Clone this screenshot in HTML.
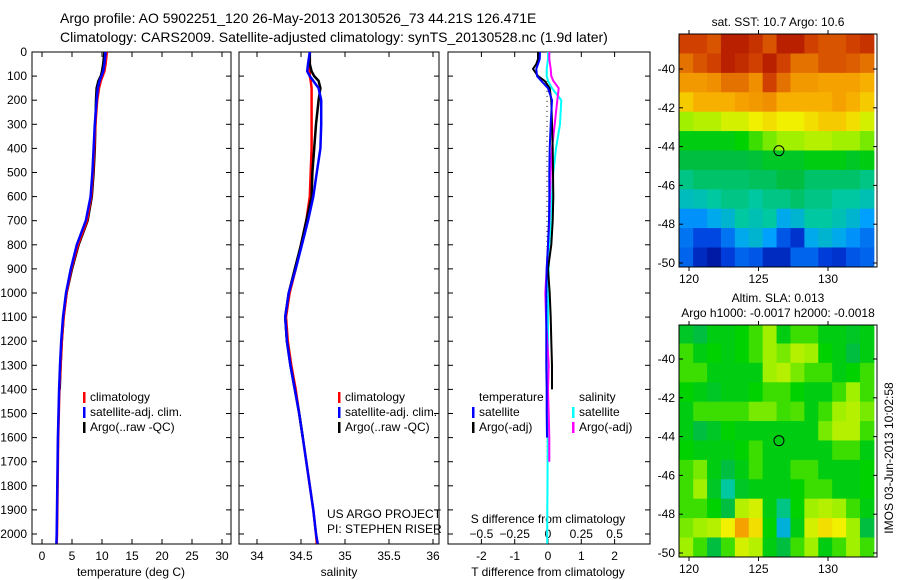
<!DOCTYPE html>
<html><head><meta charset="utf-8"><style>
body{margin:0;background:#fff}
svg{display:block;font-family:"Liberation Sans",sans-serif}
text{fill:#000}
</style></head><body>
<svg id="c" width="900" height="580" viewBox="0 0 900 580">
<text x="60" y="23" font-size="14">Argo profile: AO 5902251_120 26-May-2013 20130526_73 44.21S 126.471E</text>
<text x="60" y="42" font-size="14">Climatology: CARS2009. Satellite-adjusted climatology: synTS_20130528.nc (1.9d later)</text>
<g id="g"></g>
</svg>
<script>
// ---- data ----
const depths=[0,50,80,100,120,150,200,300,400,500,600,700,800,900,1000,1100,1200,1300,1400,1500,1600,1700,1800,1900,2000,2040];
const tempClim=[10.8,10.6,10.4,10.1,9.8,9.5,9.2,8.9,8.7,8.5,8.2,7.5,6.0,4.9,4.1,3.6,3.3,3.1,2.9,2.8,2.7,2.65,2.6,2.55,2.5,2.45];
const tempSat=[10.6,10.4,10.2,9.9,9.6,9.3,9.1,8.8,8.6,8.4,8.1,7.3,5.8,4.8,4.0,3.5,3.2,3.0,2.85,2.75,2.65,2.6,2.55,2.5,2.45,2.4];
const tempArgo=[10.4,10.2,10.0,9.8,9.4,9.1,9.0,8.9,8.8,8.6,8.3,7.6,6.1,5.0,4.1,3.6,3.3,3.1,2.95];
const salClim=[34.6,34.6,34.6,34.6,34.61,34.62,34.62,34.62,34.62,34.61,34.6,34.56,34.5,34.44,34.37,34.33,34.35,34.39,34.44,34.48,34.52,34.56,34.6,34.64,34.67,34.68];
const salSat=[34.6,34.58,34.57,34.6,34.64,34.7,34.73,34.73,34.72,34.68,34.64,34.58,34.51,34.44,34.36,34.32,34.34,34.38,34.43,34.48,34.52,34.56,34.6,34.64,34.67,34.69];
const salArgo=[34.6,34.6,34.62,34.65,34.7,34.72,34.7,34.67,34.65,34.63,34.62,34.56,34.5,34.43,34.36,34.32,34.34,34.38,34.43,34.48,34.52];
const diffDepths=[0,30,50,70,100,120,150,200,300,400,500,600,700,800,900,1000,1100,1200,1300,1400,1500,1600,1700,1800,1900,2000,2040];
const dTsat=[-0.24,-0.25,-0.3,-0.35,-0.33,-0.2,0.0,0.12,0.08,0.05,0.04,0.04,0.03,0.0,-0.04,-0.05,-0.05,-0.05,-0.05,-0.04,-0.04,-0.03];
const dTargo=[-0.3,-0.3,-0.35,-0.45,-0.3,-0.1,0.05,0.1,0.12,0.14,0.15,0.16,0.14,0.1,0.0,0.05,0.08,0.1,0.12,0.12];
const dSsat=[0.0,0.0,-0.005,-0.01,-0.01,0.0,0.03,0.1,0.09,0.06,0.04,0.03,0.02,0.01,0.005,0.003,0.0,0.0,0.0,0.0,0.0,-0.002,-0.003,-0.004,-0.005,-0.006,-0.006];
const dSargo=[0.01,0.01,0.015,0.02,0.025,0.04,0.08,0.07,0.05,0.03,0.02,0.015,0.01,0.0,-0.01,-0.02,-0.015,-0.005,0.005,0.0,0.005,0.01,0.01];
const tTicks=[0,5,10,15,20,25,30];
const sTicks=[34,34.5,35,35.5,36];
const dTicks=[-2,-1,0,1,2];
const dsTicks=[-0.5,-0.25,0,0.25,0.5];
const depthTicks=[0,100,200,300,400,500,600,700,800,900,1000,1100,1200,1300,1400,1500,1600,1700,1800,1900,2000];
const latTicks=[-40,-42,-44,-46,-48,-50];
const lonTicks=[120,125,130];
const sstGrid=[
[.9,.9,.88,.95,.95,.92,.88,.95,.95,.9,.88,.88,.9,.92],
[.85,.88,.9,.95,.93,.9,.95,.9,.85,.85,.88,.88,.87,.85],
[.8,.8,.82,.85,.85,.82,.9,.85,.8,.8,.78,.78,.78,.75],
[.72,.75,.75,.75,.78,.8,.82,.75,.75,.75,.75,.78,.75,.72],
[.6,.62,.62,.65,.65,.68,.7,.68,.68,.7,.72,.72,.7,.65],
[.5,.5,.5,.5,.52,.55,.58,.6,.6,.62,.62,.6,.6,.58],
[.45,.45,.45,.45,.45,.46,.48,.48,.48,.5,.5,.5,.48,.5],
[.4,.42,.42,.42,.42,.43,.43,.45,.45,.42,.42,.42,.42,.4],
[.35,.36,.38,.4,.4,.38,.4,.4,.42,.4,.4,.38,.38,.36],
[.26,.26,.3,.33,.38,.36,.38,.3,.33,.38,.38,.36,.33,.28],
[.22,.16,.16,.22,.3,.33,.28,.18,.12,.3,.33,.3,.26,.22],
[.2,.1,.06,.14,.2,.18,.1,.1,.2,.2,.14,.12,.18,.2]];
const slaGrid=[
[.48,.45,.5,.5,.52,.55,.6,.5,.55,.55,.5,.5,.48,.5],
[.55,.5,.52,.5,.52,.55,.6,.58,.62,.6,.52,.5,.45,.5],
[.55,.55,.5,.5,.5,.5,.6,.62,.58,.55,.55,.5,.52,.55],
[.52,.5,.48,.5,.5,.52,.55,.55,.52,.5,.5,.55,.6,.55],
[.5,.55,.55,.55,.55,.58,.58,.55,.56,.5,.55,.6,.62,.58],
[.5,.45,.48,.52,.5,.5,.5,.5,.5,.5,.58,.62,.62,.55],
[.52,.5,.5,.5,.52,.55,.5,.5,.5,.5,.5,.55,.55,.5],
[.55,.58,.5,.45,.5,.55,.5,.5,.55,.55,.5,.5,.5,.52],
[.55,.6,.48,.38,.48,.5,.5,.5,.52,.55,.55,.5,.5,.52],
[.55,.55,.52,.45,.62,.65,.5,.4,.52,.6,.62,.6,.55,.5],
[.58,.6,.62,.68,.78,.7,.52,.32,.5,.65,.7,.68,.6,.45],
[.6,.55,.45,.55,.65,.62,.5,.45,.55,.6,.5,.55,.6,.55]];
const floatLon=[126.471];
const floatLat=[-44.21];

// ---- drawing ----
const NS='http://www.w3.org/2000/svg';
const G=document.getElementById('g');
function el(tag,at,parent){const e=document.createElementNS(NS,tag);for(const k in at)e.setAttribute(k,at[k]);(parent||G).appendChild(e);return e;}
function txt(x,y,s,anchor,size,parent){const t=el('text',{x:x,y:y,'font-size':size||12,'text-anchor':anchor||'start'},parent);t.textContent=s;return t;}
const yTop=52,yBot=544;
const yD=d=>yTop+d*0.241;
const xT=v=>42+v*6;
const xS=v=>257+(v-34)*88;
const xDT=v=>548+v*33.3;
const xDS=v=>548+v*133.2;

function panel(name,x0,x1){
  const r=el('rect',{x:x0,y:yTop,width:x1-x0,height:yBot-yTop,fill:'none',stroke:'#000','stroke-width':1});
  
  
}
panel('temperature-panel-frame',32,231);
panel('salinity-panel-frame',239,439);
panel('difference-panel-frame',448,650);

const yax=el('g',{});


depthTicks.forEach(d=>{
  const y=yD(d);
  txt(27,y+4,String(d),'end',12,yax);
  [[32,37],[226,231],[239,244],[434,439],[448,453],[645,650]].forEach(p=>el('line',{x1:p[0],x2:p[1],y1:y,y2:y,stroke:'#000'},yax));
});
function xticks(name,ticks,fx,ylab){
  const g=el('g',{});
  
  
  ticks.forEach(t=>{const x=fx(t);
    el('line',{x1:x,x2:x,y1:yBot,y2:yBot-5,stroke:'#000'},g);
    el('line',{x1:x,x2:x,y1:yTop,y2:yTop+5,stroke:'#000'},g);
    txt(x,ylab,String(t),'middle',12,g);});
  return g;
}
xticks('temperature-x-axis',tTicks,xT,560);
xticks('salinity-x-axis',sTicks,xS,560);
xticks('t-difference-x-axis',dTicks,xDT,560);
const dsg=el('g',{});


dsTicks.forEach(t=>{txt(xDS(t),538,t<0?'\u2212'+Math.abs(t):String(t),'middle',12,dsg);});
txt(548,523,'S difference from climatology','middle',12,dsg);
const l1=txt(131,576,'temperature (deg C)','middle',12);

const l2=txt(339,576,'salinity','middle',12);

const l3=txt(548,576,'T difference from climatology','middle',12);


function line(name,vals,dep,fx,color,w){
  const pts=vals.map((v,i)=>fx(v).toFixed(1)+','+yD(dep[i]).toFixed(1)).join(' ');
  const p=el('polyline',{points:pts,fill:'none',stroke:color,'stroke-width':w||2.5,'stroke-linejoin':'round'});
  
  
}
line('temp-argo-line',tempArgo,depths,xT,'#000',2.5);
line('temp-climatology-line',tempClim,depths,xT,'#f00',2.5);
line('temp-satellite-line',tempSat,depths,xT,'#00f',2.5);
line('sal-climatology-line',salClim,depths,xS,'#f00',2.5);
line('sal-argo-line',salArgo,depths,xS,'#000',2.5);
line('sal-satellite-line',salSat,depths,xS,'#00f',2.5);
const zl=el('line',{x1:xDT(0)-1,x2:xDT(0)-1,y1:yD(120),y2:yD(1700),stroke:'#000','stroke-dasharray':'1,4'});

line('dS-satellite-line',dSsat,diffDepths,xDS,'#0ff',2);
line('dS-argo-line',dSargo,diffDepths,xDS,'#f0f',2);
line('dT-argo-line',dTargo,diffDepths,xDT,'#000',2);
line('dT-satellite-line',dTsat,diffDepths,xDT,'#00f',2);

function legend(name,x,items){
  const g=el('g',{});
  
  
  items.forEach((it,i)=>{const y=401+i*15;
    if(it[1])el('rect',{x:x,y:y-9,width:2.5,height:11,fill:it[1]},g);
    txt(x+7,y,it[0],'start',12,g);});
}
legend('temperature-legend',83,[['climatology','#f00'],['satellite-adj. clim.','#00f'],['Argo(..raw -QC)','#000']]);
legend('salinity-legend',338,[['climatology','#f00'],['satellite-adj. clim.','#00f'],['Argo(..raw -QC)','#000']]);
legend('t-diff-legend',472,[['temperature',null],['satellite','#00f'],['Argo(-adj)','#000']]);
legend('s-diff-legend',572,[['salinity',null],['satellite','#0ff'],['Argo(-adj)','#f0f']]);
const cr=el('g',{});
txt(327,518,'US ARGO PROJECT','start',12,cr);txt(327,533,'PI: STEPHEN RISER','start',12,cr);

const stops=[[0,[0,0,128]],[.15,[0,64,224]],[.28,[0,160,255]],[.38,[0,200,160]],[.45,[0,190,64]],[.52,[0,210,0]],[.6,[160,240,0]],[.68,[240,240,0]],[.75,[248,176,0]],[.82,[240,144,0]],[.9,[208,64,0]],[1,[160,0,0]]];
function cmap(v){for(let i=1;i<stops.length;i++){if(v<=stops[i][0]){const a=stops[i-1],b=stops[i],f=(v-a[0])/(b[0]-a[0]);return 'rgb('+a[1].map((c,k)=>Math.round(c+(b[1][k]-c)*f)).join(',')+')';}}return 'rgb(160,0,0)';}
const mx0=679,mx1=877,lon0=119.3;
const mLon=l=>689+(l-120)*13.9;
function map(name,grid,y0,y1,latY,title){
  const g=el('g',{});
  
  
  const mLat=lat=>latY+(-40-lat)*19.4;
  grid.forEach((row,r)=>row.forEach((v,c)=>{
    const la=-38.2-r, lo=lon0+c;
    const xa=Math.max(mx0,mLon(lo)),xb=Math.min(mx1,mLon(lo+1));
    const ya=Math.max(y0,mLat(la)),yb=Math.min(y1,mLat(la-1));
    const cell=el('rect',{x:xa,y:ya,width:xb-xa+0.5,height:yb-ya+0.5,fill:cmap(v)},g);
    
    
  }));
  el('rect',{x:mx0,y:y0,width:mx1-mx0,height:y1-y0,fill:'none',stroke:'#000'},g);
  latTicks.forEach(l=>{const y=mLat(l);txt(mx0-4,y+4,String(l),'end',12,g);
    el('line',{x1:mx0,x2:mx0+4,y1:y,y2:y,stroke:'#000'},g);el('line',{x1:mx1-4,x2:mx1,y1:y,y2:y,stroke:'#000'},g);});
  lonTicks.forEach(l=>{const x=mLon(l);txt(x,y1+16,String(l),'middle',12,g);
    el('line',{x1:x,x2:x,y1:y0,y2:y0-4,stroke:'#000'},g);el('line',{x1:x,x2:x,y1:y1,y2:y1+4,stroke:'#000'},g);});
  const m=el('circle',{cx:mLon(floatLon[0]),cy:mLat(floatLat[0]),r:5,fill:'none',stroke:'#000'},g);
  
  
  title.forEach((t,i)=>txt(778,y0-(title.length-1-i)*15-8,t,'middle',12,g));
}
map('sst-map',sstGrid,34,267,69,['sat. SST: 10.7 Argo: 10.6']);
map('sla-map',slaGrid,325,557,359,['Altim. SLA: 0.013','Argo h1000: -0.0017 h2000: -0.0018']);
const ts=txt(0,0,'IMOS 03-Jun-2013 10:02:58','middle',12);
ts.setAttribute('transform','translate(893,458) rotate(-90)');


</script>
</body></html>
